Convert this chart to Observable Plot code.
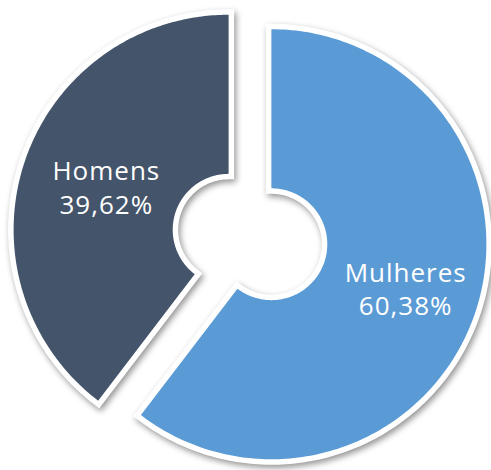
<!DOCTYPE html>
<html>
<head>
<meta charset="utf-8">
<script src="https://cdn.jsdelivr.net/npm/d3@7"></script>
<script src="https://cdn.jsdelivr.net/npm/@observablehq/plot@0.6"></script>
<style>
  html, body { margin: 0; padding: 0; background: #fff; }
  #chart svg { display: block; }
  #chart g[aria-label=text] text { letter-spacing: 1px; }
</style>
</head>
<body>
<div id="chart"></div>
<script>
// Data
const categories = ["Mulheres", "Homens"];
const values = [60.38, 39.62];
const colors = ["#5B9BD5", "#44546A"];

// Layout (style) constants
const W = 491, H = 470;
const Rpx = 215;            // outer radius in px
const cxPx = 249.5, cyPx = 236.5;  // overall centre in px
const innerRatio = 0.26;    // hole radius / outer radius
const explode = 0.105;      // explosion offset / outer radius

const slices = categories.map((c, i) => ({key: c, value: values[i]}));
const pie = d3.pie().sort(null).value(d => d.value)(slices);

// Build arc polygons (unit radius, y up, angle clockwise from top)
const pts = [];
const labels = [];
pie.forEach(p => {
  const a0 = p.startAngle, a1 = p.endAngle, m = (a0 + a1) / 2;
  const ox = Math.sin(m) * explode, oy = Math.cos(m) * explode;
  const n = 200;
  for (let k = 0; k <= n; k++) {
    const a = a0 + (a1 - a0) * k / n;
    pts.push({key: p.data.key, x: ox + Math.sin(a), y: oy + Math.cos(a)});
  }
  for (let k = n; k >= 0; k--) {
    const a = a0 + (a1 - a0) * k / n;
    pts.push({key: p.data.key, x: ox + innerRatio * Math.sin(a), y: oy + innerRatio * Math.cos(a)});
  }
  const rl = (1 + innerRatio) / 2;
  labels.push({
    key: p.data.key,
    x: ox + rl * Math.sin(m),
    y: oy + rl * Math.cos(m),
    text: p.data.key + "\n" + p.data.value.toFixed(2).replace(".", ",") + "%"
  });
});

const chart = Plot.plot({
  width: W,
  height: H,
  margin: 0,
  x: {domain: [-cxPx / Rpx, (W - cxPx) / Rpx], axis: null},
  y: {domain: [-(H - cyPx) / Rpx, cyPx / Rpx], axis: null},
  color: {domain: categories, range: colors},
  style: {background: "#fff"},
  marks: [
    Plot.line(pts, {x: "x", y: "y", z: "key", curve: "linear-closed",
      fill: "#fff", stroke: "#fff", strokeWidth: 11, strokeLinejoin: "miter", strokeMiterlimit: 10}),
    Plot.line(pts, {x: "x", y: "y", z: "key", curve: "linear-closed",
      fill: "key", stroke: "none"}),
    Plot.text(labels, {x: "x", y: "y", text: "text", fill: "#fff", dx: 6,
      fontSize: 26, fontFamily: "'Open Sans', sans-serif", lineHeight: 1.3,
      lineAnchor: "middle", textAnchor: "middle"})
  ]
});

// drop shadow under the white border layer
d3.select(chart).selectAll("g[aria-label=line]").filter((d, i) => i === 0)
  .style("filter", "drop-shadow(2px 3px 3px rgba(0,0,0,0.42))");

document.getElementById("chart").appendChild(chart);
</script>
</body>
</html>
